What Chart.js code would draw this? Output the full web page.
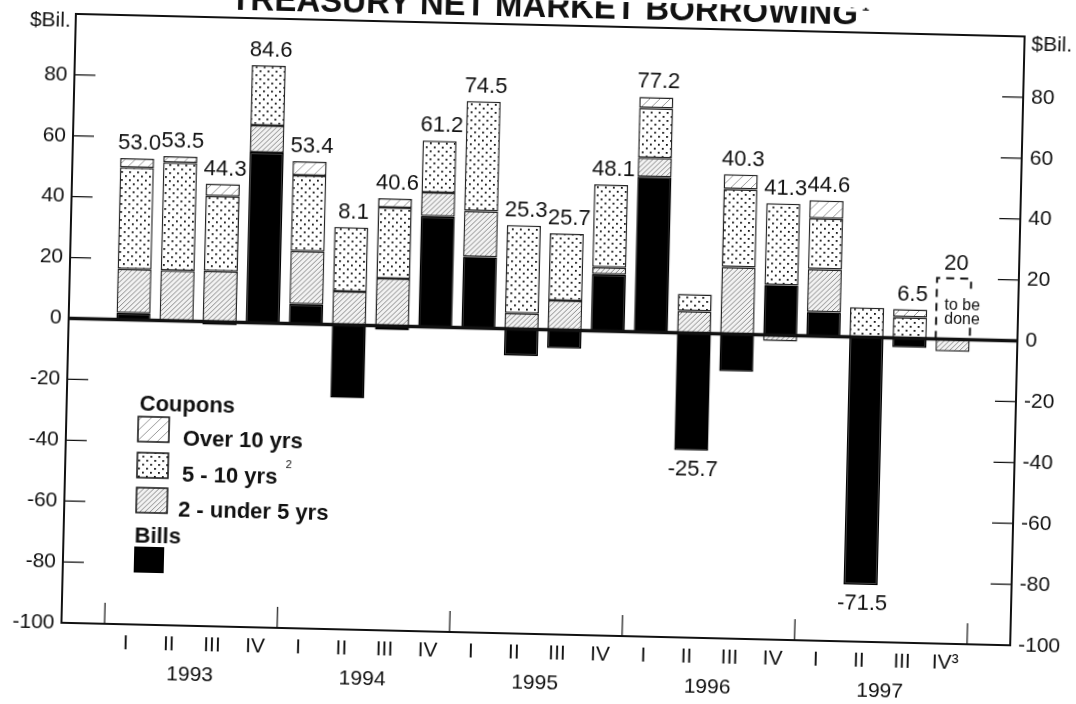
<!DOCTYPE html>
<html><head><meta charset="utf-8">
<script src="https://cdn.jsdelivr.net/npm/chart.js@4/dist/chart.umd.min.js"></script>
<style>
html,body{margin:0;padding:0;background:#fff;overflow:hidden;}
#wrap{width:1076px;height:704px;transform:rotate(1.36deg);transform-origin:538px 352px;}
canvas{display:block;}
</style></head><body>
<div id="wrap"><canvas id="c" width="1076" height="704"></canvas></div>
<script>
// ---- data ----
const quarters = ['I','II','III','IV','I','II','III','IV','I','II','III','IV','I','II','III','IV','I','II','III','IV\u00B3'];
const years = ['1993','1994','1995','1996','1997'];
const bills    = [2.2,-0.5,-1.0,56.0,6.5,-24.0,-1.3,36.4,23.3,-8.8,-6.0,18.6,51.0,-38.5,-12.2,16.4,7.9,-81.3,-3.0,null];
const under5   = [14.5,16.5,16.7,8.9,17.4,11.0,15.6,7.8,15.1,5.2,9.7,2.3,6.2,7.2,22.0,-2.0,14.1,null,null,-4.0];
const fiveTo10 = [33.3,35.5,24.6,19.7,24.9,21.1,23.3,17.0,36.1,28.9,22.0,27.2,16.4,5.6,25.6,26.9,16.7,9.8,6.9,null];
const over10   = [3.0,2.0,4.0,null,4.6,null,3.0,null,null,null,null,null,3.6,null,4.9,null,5.9,null,2.6,null];
const toBeDone = [null,null,null,null,null,null,null,null,null,null,null,null,null,null,null,null,null,null,null,20];
const totals   = ['53.0','53.5','44.3','84.6','53.4','8.1','40.6','61.2','74.5','25.3','25.7','48.1','77.2','-25.7','40.3','41.3','44.6','-71.5','6.5','20'];
const yTicks   = [-100,-80,-60,-40,-20,0,20,40,60,80,100];
const titleText = 'TREASURY NET MARKET BORROWING';
const unitLabel = '$Bil.';

// ---- patterns ----
function hatch(bg, color, s, lw){
  const c=document.createElement('canvas'); c.width=s; c.height=s;
  const g=c.getContext('2d'); g.fillStyle=bg; g.fillRect(0,0,s,s);
  g.strokeStyle=color; g.lineWidth=lw;
  g.beginPath(); g.moveTo(0,s); g.lineTo(s,0); g.moveTo(-1,1); g.lineTo(1,-1); g.moveTo(s-1,s+1); g.lineTo(s+1,s-1); g.stroke();
  return g.createPattern(c,'repeat');
}
function dots(){
  const c=document.createElement('canvas'); c.width=8; c.height=8;
  const g=c.getContext('2d'); g.fillStyle='#fff'; g.fillRect(0,0,8,8);
  g.fillStyle='#111';
  g.fillRect(1,1,1.8,1.8); g.fillRect(5,5,1.8,1.8);
  return g.createPattern(c,'repeat');
}
const pOver = hatch('#fff','#999',10,1);
const pMid  = dots();
const pUnder= hatch('#f2f2f2','#8a8a8a',5,1);

const F = "'Liberation Sans', Arial, Helvetica, sans-serif";
const FN = "'Liberation Sans Narrow', 'Liberation Sans', Arial, sans-serif";

const pts = arr => arr.map((v,i)=>({x:i,y:v}));
const common = {borderColor:'#222', borderWidth:1.5, borderSkipped:false, stack:'s'};

const decor = {
  id:'decor',
  beforeDraw(chart){
    const g=chart.ctx; g.save(); g.fillStyle='#fff'; g.fillRect(0,0,chart.width,chart.height); g.restore();
  },
  afterDatasetsDraw(chart){
    const g=chart.ctx, a=chart.chartArea, xs=chart.scales.x, ys=chart.scales.y;
    g.save();
    // zero line
    const y0=ys.getPixelForValue(0);
    g.strokeStyle='#111'; g.lineWidth=3.5;
    g.beginPath(); g.moveTo(a.left,y0); g.lineTo(a.right,y0); g.stroke();
    // frame
    g.lineWidth=2; g.strokeRect(a.left,a.top,a.right-a.left,a.bottom-a.top);
    // inward y ticks
    g.lineWidth=1.2;
    yTicks.forEach(v=>{
      if(v<=-100||v>=100||v===0) return;
      const y=ys.getPixelForValue(v);
      g.beginPath(); g.moveTo(a.left,y); g.lineTo(a.left+21,y);
      g.moveTo(a.right,y); g.lineTo(a.right-21,y); g.stroke();
    });
    // year separators
    for(let k=0;k<=years.length;k++){
      const x=xs.getPixelForValue(k*4-0.5);
      g.beginPath(); g.moveTo(x,a.bottom); g.lineTo(x,a.bottom-21); g.stroke();
    }
    // year labels
    g.fillStyle='#111'; g.font='21px '+FN; g.textAlign='center'; g.textBaseline='middle';
    years.forEach((yr,k)=>{ g.fillText(yr, xs.getPixelForValue(k*4+1.5), a.bottom+49); });
    // dashed "to be done" box
    const tbMeta=chart.getDatasetMeta(4);
    tbMeta.data.forEach((el,i)=>{
      if(toBeDone[i]==null) return;
      const w=el.width, l=el.x-w/2, t=el.y, b=el.base;
      g.setLineDash([8,6]); g.lineWidth=2; g.strokeStyle='#111';
      g.beginPath(); g.moveTo(l,b); g.lineTo(l,t); g.lineTo(l+w,t); g.lineTo(l+w,t+10);
      g.moveTo(l+w,b-12); g.lineTo(l+w,b); g.stroke();
      g.setLineDash([]);
      g.font='16px '+F; g.textAlign='left'; g.textBaseline='middle'; g.fillStyle='#111';
      g.fillText('to be', l+8, t+(b-t)*0.45);
      g.fillText('done', l+8, t+(b-t)*0.68);
    });
    // totals
    g.font='22px '+F; g.textAlign='center'; g.textBaseline='middle'; g.fillStyle='#111';
    const series=[bills,under5,fiveTo10,over10,toBeDone];
    totals.forEach((t,i)=>{
      let pos=0,neg=0;
      series.forEach(s=>{const v=s[i]; if(v==null) return; if(v>0) pos+=v; else neg+=v;});
      const x=xs.getPixelForValue(i)+2;
      if(parseFloat(t)<0) g.fillText(t,x,ys.getPixelForValue(neg)+19);
      else g.fillText(t,x,ys.getPixelForValue(pos)-15);
    });
    // title
    g.font='bold 33px '+F; g.textAlign='center'; g.textBaseline='alphabetic';
    g.fillText(titleText, 536, 17);
    const tw=g.measureText(titleText).width;
    g.font='bold 13px '+F; g.textAlign='left'; g.fillText('1', 536+tw/2+4, 3);
    // unit labels
    g.font='21px '+F; g.textBaseline='middle';
    g.textAlign='right'; g.fillText(unitLabel, a.left-5, a.top+7);
    g.textAlign='left'; g.fillText(unitLabel, a.right+7, a.top+8);
    // legend
    g.textAlign='left'; g.textBaseline='alphabetic';
    g.font='bold 22px '+F; g.fillText('Coupons', 141, 420);
    const items=[[pOver,'Over 10 yrs',426,185],[pMid,'5 - 10 yrs',462,185],[pUnder,'2 - under 5 yrs',497,182]];
    items.forEach(([p,txt,top,tx])=>{
      g.fillStyle=p; g.fillRect(140,top,31,25);
      g.strokeStyle='#111'; g.lineWidth=1.5; g.strokeRect(140,top,31,25);
      g.fillStyle='#111'; g.font='bold 22px '+F; g.fillText(txt,tx,top+28);
      if(txt==='5 - 10 yrs'){ const w=g.measureText(txt).width; g.font='11px '+F; g.fillText('2',tx+w+8,top+12); }
    });
    g.font='bold 22px '+F; g.fillText('Bills',139,552);
    g.fillStyle='#000'; g.fillRect(139,556,30,26);
    g.restore();
  }
};

new Chart(document.getElementById('c'),{
  type:'bar',
  data:{datasets:[
    {label:'Bills', data:pts(bills), backgroundColor:'#000', ...common, borderColor:'#000'},
    {label:'2 - under 5 yrs', data:pts(under5), backgroundColor:pUnder, ...common},
    {label:'5 - 10 yrs', data:pts(fiveTo10), backgroundColor:pMid, ...common},
    {label:'Over 10 yrs', data:pts(over10), backgroundColor:pOver, ...common},
    {label:'To be done', data:pts(toBeDone), backgroundColor:'rgba(0,0,0,0)', ...common, borderWidth:0}
  ]},
  options:{
    responsive:false, animation:false, devicePixelRatio:1,
    layout:{padding:{top:25,left:0,right:0,bottom:0}},
    datasets:{bar:{categoryPercentage:1, barPercentage:0.79}},
    plugins:{legend:{display:false}, tooltip:{enabled:false}},
    scales:{
      x:{type:'linear', min:-1.5, max:20.5, stacked:true, offset:false,
        afterBuildTicks: ax=>{ ax.ticks = quarters.map((q,i)=>({value:i})); },
        afterFit: ax=>{ ax.height=70; },
        grid:{display:false, drawTicks:false}, border:{display:false},
        ticks:{autoSkip:false, maxRotation:0, padding:7, color:'#111', font:{family:FN,size:21},
          callback:(v)=> quarters[v] ?? ''}},
      y:{type:'linear', position:'left', min:-100, max:100, stacked:true,
        afterBuildTicks: ax=>{ ax.ticks = yTicks.map(v=>({value:v})); },
        afterFit: ax=>{ ax.width=68; },
        grid:{display:false, drawTicks:false}, border:{display:false},
        ticks:{padding:7, color:'#111', font:{family:F,size:21}, callback:v=> v===100?'':String(v)}},
      y2:{type:'linear', position:'right', min:-100, max:100,
        afterBuildTicks: ax=>{ ax.ticks = yTicks.map(v=>({value:v})); },
        afterFit: ax=>{ ax.width=59; },
        grid:{display:false, drawTicks:false}, border:{display:false},
        ticks:{padding:8, color:'#111', font:{family:F,size:21}, callback:v=> v===100?'':String(v)}}
    }
  },
  plugins:[decor]
});
</script>
</body></html>
